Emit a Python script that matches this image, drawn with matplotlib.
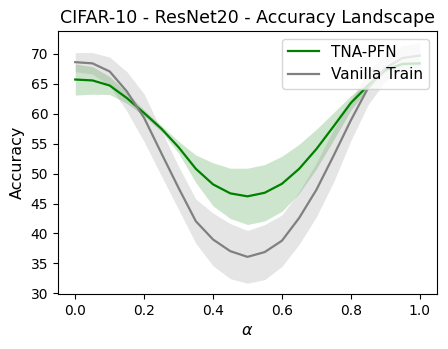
import numpy as np
import matplotlib
matplotlib.use("Agg")
import matplotlib.pyplot as plt

alpha = [0.0, 0.05, 0.1, 0.15, 0.2, 0.25, 0.3, 0.35, 0.4, 0.45, 0.5,
         0.55, 0.6, 0.65, 0.7, 0.75, 0.8, 0.85, 0.9, 0.95, 1.0]

tna_mean = [65.7, 65.55, 64.7, 62.6, 60.1, 57.5, 54.4, 50.8, 48.2, 46.7, 46.2,
            46.8, 48.3, 50.8, 54.1, 57.9, 61.8, 64.7, 67.3, 68.3, 68.4]
tna_std = [2.6, 2.3, 1.5, 0.9, 0.5, 0.5, 1.0, 2.3, 3.6, 4.2, 4.7,
           4.7, 4.6, 4.1, 3.3, 2.3, 1.2, 0.5, 0.3, 0.3, 0.3]

van_mean = [68.6, 68.4, 67.05, 63.7, 59.3, 53.4, 47.6, 42.05, 39.0, 37.05, 36.1,
            36.9, 38.8, 42.6, 47.3, 53.0, 58.9, 64.3, 67.6, 69.3, 69.7]
van_std = [1.6, 1.8, 2.4, 3.3, 4.0, 3.8, 3.6, 3.7, 4.4, 4.6, 4.4,
           4.6, 4.3, 4.4, 4.5, 4.4, 3.4, 2.8, 2.2, 2.1, 2.1]

labels = ["TNA-PFN", "Vanilla Train"]

x = np.array(alpha)
tm, ts = np.array(tna_mean), np.array(tna_std)
vm, vs = np.array(van_mean), np.array(van_std)

fig = plt.figure(figsize=(4.48, 3.49), dpi=100)
ax = fig.add_axes([58/448, 1-294/349, (437-58)/448, (294-31)/349])

ax.plot(x, tm, color="green", lw=1.6, label=labels[0])
ax.fill_between(x, tm - ts, tm + ts, color="green", alpha=0.2, lw=0)
ax.plot(x, vm, color="gray", lw=1.6, label=labels[1])
ax.fill_between(x, vm - vs, vm + vs, color="gray", alpha=0.2, lw=0)

ax.set_xlim(-0.05, 1.05)
ax.set_ylim(29.9, 73.8)
ax.set_xticks([0.0, 0.2, 0.4, 0.6, 0.8, 1.0])
ax.set_yticks([30, 35, 40, 45, 50, 55, 60, 65, 70])
ax.tick_params(labelsize=10)
ax.set_xlabel(r"$\alpha$", fontsize=11.5)
ax.set_ylabel("Accuracy", fontsize=11.5)
ax.set_title("CIFAR-10 - ResNet20 - Accuracy Landscape", fontsize=12.5)
ax.legend(loc="upper right", fontsize=11)

fig.savefig("out.png", dpi=100)
